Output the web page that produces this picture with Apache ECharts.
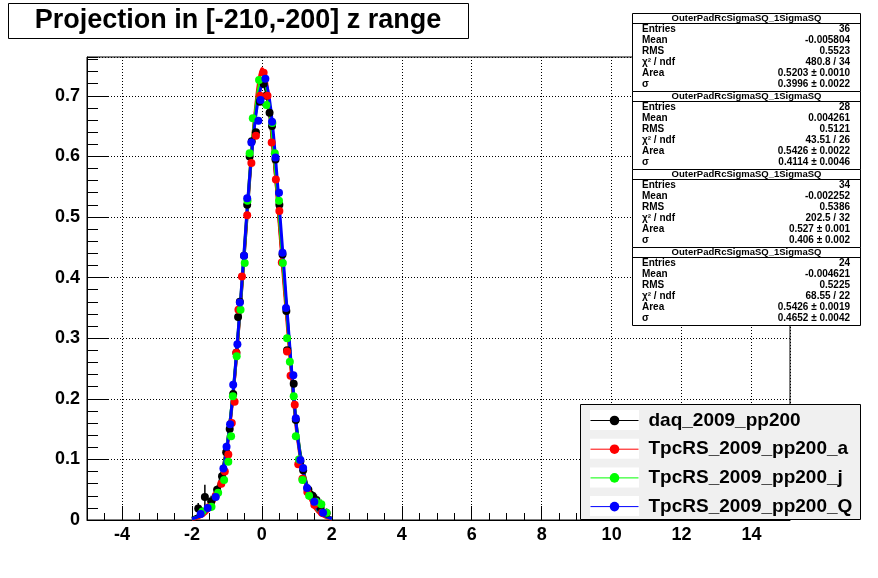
<!DOCTYPE html>
<html><head><meta charset="utf-8">
<script src="https://cdn.jsdelivr.net/npm/echarts@6/dist/echarts.min.js"></script>
<style>html,body{margin:0;padding:0;background:#fff}#c{width:878px;height:578px}</style>
</head><body><div id="c"></div>
<script>
// ---------- data ----------
const titleText = 'Projection in [-210,-200] z range';
const seriesNames = ['daq_2009_pp200', 'TpcRS_2009_pp200_a', 'TpcRS_2009_pp200_j', 'TpcRS_2009_pp200_Q'];
const seriesColors = ['#000000', '#ff0000', '#00ff00', '#0000ff'];

// histogram points: [x, y, yError]
const daqPoints = [[-1.82,0.019,0.009],[-1.63,0.038,0.020],[-1.45,0.031,0.009],[-1.28,0.050,0.007],[-1.14,0.072,0.006],[-1.02,0.112,0.005],[-0.92,0.150,0.005],[-0.82,0.208,0.005],[-0.73,0.276,0.005],[-0.68,0.335,0.005],[-0.63,0.360,0.005],[-0.51,0.436,0.005],[-0.42,0.520,0.005],[-0.35,0.600,0.005],[-0.29,0.625,0.005],[-0.17,0.640,0.005],[-0.06,0.690,0.005],[0.05,0.720,0.005],[0.12,0.700,0.005],[0.22,0.672,0.005],[0.29,0.650,0.005],[0.39,0.595,0.005],[0.50,0.520,0.005],[0.59,0.438,0.005],[0.70,0.345,0.005],[0.72,0.280,0.005],[0.91,0.225,0.005],[0.97,0.165,0.005],[1.10,0.097,0.005],[1.18,0.082,0.006],[1.33,0.050,0.007],[1.45,0.040,0.008],[1.56,0.033,0.009],[1.68,0.020,0.009],[1.85,0.011,0.008]];
const aPoints = [[-1.72,0.011,0.007],[-1.52,0.021,0.007],[-1.32,0.040,0.007],[-1.16,0.060,0.006],[-1.06,0.080,0.005],[-0.96,0.108,0.005],[-0.86,0.160,0.005],[-0.78,0.195,0.005],[-0.73,0.276,0.005],[-0.67,0.347,0.005],[-0.57,0.402,0.005],[-0.42,0.503,0.005],[-0.30,0.589,0.005],[-0.17,0.634,0.005],[-0.05,0.700,0.005],[0.05,0.738,0.005],[0.16,0.700,0.005],[0.28,0.623,0.005],[0.40,0.562,0.005],[0.50,0.510,0.005],[0.57,0.425,0.005],[0.72,0.278,0.005],[0.82,0.238,0.005],[0.94,0.190,0.005],[1.04,0.092,0.005],[1.16,0.068,0.006],[1.30,0.046,0.007],[1.50,0.025,0.007],[1.72,0.012,0.007]];
const jPoints = [[-1.70,0.014,0.007],[-1.44,0.022,0.007],[-1.25,0.045,0.006],[-1.08,0.066,0.005],[-0.96,0.096,0.005],[-0.88,0.138,0.005],[-0.83,0.204,0.005],[-0.72,0.270,0.005],[-0.61,0.347,0.005],[-0.49,0.424,0.005],[-0.41,0.527,0.005],[-0.35,0.605,0.005],[-0.26,0.663,0.005],[-0.08,0.726,0.005],[0.13,0.685,0.005],[0.30,0.655,0.005],[0.37,0.605,0.005],[0.49,0.527,0.005],[0.60,0.424,0.005],[0.72,0.300,0.005],[0.80,0.261,0.005],[0.91,0.204,0.005],[0.97,0.138,0.005],[1.06,0.100,0.005],[1.16,0.066,0.006],[1.35,0.040,0.007],[1.55,0.030,0.007],[1.70,0.026,0.008],[1.85,0.012,0.007]];
const qPoints = [[-1.75,0.010,0.006],[-1.55,0.020,0.006],[-1.32,0.038,0.006],[-1.10,0.085,0.005],[-1.01,0.121,0.005],[-0.91,0.158,0.005],[-0.82,0.223,0.005],[-0.70,0.290,0.005],[-0.63,0.359,0.005],[-0.51,0.436,0.005],[-0.42,0.531,0.005],[-0.30,0.623,0.005],[-0.10,0.659,0.005],[-0.04,0.693,0.005],[0.10,0.728,0.005],[0.29,0.657,0.005],[0.39,0.598,0.005],[0.49,0.540,0.005],[0.59,0.441,0.005],[0.69,0.350,0.005],[0.90,0.239,0.005],[0.97,0.168,0.005],[1.10,0.099,0.005],[1.18,0.086,0.005],[1.29,0.053,0.006],[1.50,0.030,0.006],[1.75,0.012,0.006]];

// fitted curves
const curveX = [-2.0,-1.8,-1.6,-1.4,-1.2,-1.0,-0.8,-0.6,-0.4,-0.3,-0.2,-0.1,0.0,0.1,0.2,0.3,0.4,0.6,0.8,1.0,1.2,1.4,1.6,1.8,2.0];
const daqCurve = [0.003,0.008,0.017,0.034,0.064,0.122,0.222,0.362,0.520,0.598,0.660,0.703,0.720,0.712,0.680,0.625,0.562,0.420,0.280,0.150,0.078,0.040,0.019,0.008,0.003];
const aCurve   = [0.001,0.004,0.011,0.026,0.056,0.115,0.220,0.365,0.525,0.605,0.670,0.720,0.745,0.735,0.690,0.625,0.560,0.410,0.270,0.142,0.070,0.032,0.013,0.005,0.001];
const jCurve   = [0.002,0.006,0.014,0.030,0.060,0.120,0.225,0.368,0.528,0.605,0.665,0.710,0.728,0.722,0.690,0.635,0.570,0.425,0.280,0.148,0.075,0.036,0.016,0.007,0.002];
const qCurve   = [0.002,0.006,0.014,0.030,0.058,0.118,0.225,0.370,0.530,0.600,0.655,0.695,0.718,0.722,0.700,0.655,0.590,0.440,0.285,0.148,0.074,0.038,0.017,0.007,0.002];

// stats boxes
const statsTitle = 'OuterPadRcSigmaSQ_1SigmaSQ';
const statsLabels = ['Entries', 'Mean', 'RMS', 'χ² / ndf', 'Area', 'σ'];
const statsDaq = ['36', '-0.005804', '0.5523', '480.8 / 34', '0.5203 ± 0.0010', '0.3996 ± 0.0022'];
const statsA   = ['28', '0.004261', '0.5121', '43.51 / 26', '0.5426 ± 0.0022', '0.4114 ± 0.0046'];
const statsJ   = ['34', '-0.002252', '0.5386', '202.5 / 32', '0.527 ± 0.001', '0.406 ± 0.002'];
const statsQ   = ['24', '-0.004621', '0.5225', '68.55 / 22', '0.5426 ± 0.0019', '0.4652 ± 0.0042'];

const xMin = -5, xMax = 15.1, yMin = 0, yMax = 0.764;

// ---------- chart ----------
const FONT = 'Liberation Sans, Arial, sans-serif';
const allPoints = [daqPoints, aPoints, jPoints, qPoints];
const allCurves = [daqCurve, aCurve, jCurve, qCurve];
const allStats = [statsDaq, statsA, statsJ, statsQ];

const series = [];
seriesNames.forEach((name, i) => {
  const col = seriesColors[i];
  series.push({
    type: 'custom', name: name + ' err', xAxisIndex: 0, yAxisIndex: 0, z: 2,
    data: allPoints[i], encode: { x: 0, y: 1 },
    renderItem: (params, api) => {
      const x = api.value(0), y = api.value(1), e = api.value(2);
      const p1 = api.coord([x, Math.max(0, y - e)]);
      const p2 = api.coord([x, y + e]);
      return { type: 'line', shape: { x1: p1[0], y1: p1[1], x2: p2[0], y2: p2[1] }, style: { stroke: col, lineWidth: 1.5 } };
    },
    silent: true
  });
  series.push({
    type: 'scatter', name: name + ' pts', xAxisIndex: 0, yAxisIndex: 0, z: 2,
    data: allPoints[i].map(p => [p[0], p[1]]),
    symbol: 'circle', symbolSize: 8, itemStyle: { color: col, opacity: 1 }, silent: true
  });
  series.push({
    type: 'line', name: name, xAxisIndex: 0, yAxisIndex: 0, z: 2,
    data: curveX.map((x, k) => [x, allCurves[i][k]]),
    smooth: 0.3, showSymbol: false, symbol: 'circle', symbolSize: 9,
    lineStyle: { color: col, width: 3 }, itemStyle: { color: col }, silent: true
  });
});

const graphics = [];
// title box
graphics.push({ type: 'rect', z: 10, shape: { x: 8.5, y: 3.5, width: 460, height: 35 }, style: { fill: '#fff', stroke: '#000', lineWidth: 1 } });
graphics.push({ type: 'text', z: 11, style: { text: titleText, x: 238, y: 21, textAlign: 'center', textVerticalAlign: 'middle', font: 'bold 27px ' + FONT, fill: '#000' } });
// stats boxes
allStats.forEach((vals, i) => {
  const top = 13.5 + i * 78;
  graphics.push({ type: 'rect', z: 10, shape: { x: 632.5, y: top, width: 228, height: 78 }, style: { fill: '#fff', stroke: '#000', lineWidth: 1 } });
  graphics.push({ type: 'line', z: 11, shape: { x1: 632.5, y1: top + 10, x2: 860.5, y2: top + 10 }, style: { stroke: '#000', lineWidth: 1 } });
  graphics.push({ type: 'text', z: 11, style: { text: statsTitle, x: 746.5, y: top + 5, textAlign: 'center', textVerticalAlign: 'middle', font: 'bold 9.5px ' + FONT, fill: '#000' } });
  statsLabels.forEach((lab, k) => {
    const y = top + 15.3 + k * 11.15;
    graphics.push({ type: 'text', z: 11, style: { text: lab, x: 642, y: y, textAlign: 'left', textVerticalAlign: 'middle', font: 'bold 10px ' + FONT, fill: '#000' } });
    graphics.push({ type: 'text', z: 11, style: { text: vals[k], x: 850, y: y, textAlign: 'right', textVerticalAlign: 'middle', font: 'bold 10px ' + FONT, fill: '#000' } });
  });
});
// legend background box and white sample boxes
graphics.push({ type: 'rect', z: 3, shape: { x: 580.5, y: 404.5, width: 280, height: 115 }, style: { fill: '#f0f0f0', stroke: '#000', lineWidth: 1 } });
seriesNames.forEach((n, k) => {
  graphics.push({ type: 'rect', z: 3, shape: { x: 590, y: 410 + k * 28.7, width: 49, height: 20 }, style: { fill: '#fff' } });
});

const option = {
  backgroundColor: '#ffffff',
  animation: false,
  grid: { left: 87, right: 88, top: 57, bottom: 58, show: true, borderColor: '#000', borderWidth: 1, backgroundColor: 'transparent', outerBoundsMode: 'none', containLabel: false },
  xAxis: [
    { type: 'value', min: xMin, max: xMax, splitNumber: 10, minInterval: 2, maxInterval: 2, position: 'bottom',
      axisLine: { show: true, onZero: false, lineStyle: { color: '#000', width: 1 } },
      axisTick: { show: true, inside: true, length: 14, lineStyle: { color: '#000', width: 1 } },
      axisLabel: { show: true, showMinLabel: false, showMaxLabel: false, margin: 6, color: '#000', fontFamily: FONT, fontWeight: 'bold', fontSize: 18 },
      splitLine: { show: true, lineStyle: { color: '#000', width: 1, type: [1, 2] } } },
    { type: 'value', min: xMin, max: xMax, interval: 0.5, position: 'bottom',
      axisLine: { show: false, onZero: false },
      axisTick: { show: true, inside: true, length: 7, lineStyle: { color: '#000', width: 1 } },
      axisLabel: { show: false }, splitLine: { show: false } }
  ],
  yAxis: [
    { type: 'value', min: yMin, max: yMax, interval: 0.1, position: 'left',
      axisLine: { show: true, onZero: false, lineStyle: { color: '#000', width: 1 } },
      axisTick: { show: true, inside: true, length: 21, lineStyle: { color: '#000', width: 1 } },
      axisLabel: { show: true, showMaxLabel: false, margin: 7, color: '#000', fontFamily: FONT, fontWeight: 'bold', fontSize: 18 },
      splitLine: { show: true, lineStyle: { color: '#000', width: 1, type: [1, 2] } } },
    { type: 'value', min: yMin, max: yMax, interval: 0.02, position: 'left',
      axisLine: { show: false, onZero: false },
      axisTick: { show: true, inside: true, length: 11, lineStyle: { color: '#000', width: 1 } },
      axisLabel: { show: false }, splitLine: { show: false } }
  ],
  legend: {
    show: true, orient: 'vertical', left: 590, top: 411, padding: 0,
    data: seriesNames, itemWidth: 48, itemHeight: 12, itemGap: 9.7,
    lineStyle: { width: 1 },
    backgroundColor: 'transparent', borderWidth: 0,
    textStyle: { color: '#000', fontFamily: FONT, fontWeight: 'bold', fontSize: 19, lineHeight: 19, padding: [0, 0, 0, 5] },
    selectedMode: false, z: 4
  },
  graphic: graphics,
  series: series
};

const chart = echarts.init(document.getElementById('c'), null, { renderer: 'canvas' });
chart.setOption(option);
</script>
</body></html>
